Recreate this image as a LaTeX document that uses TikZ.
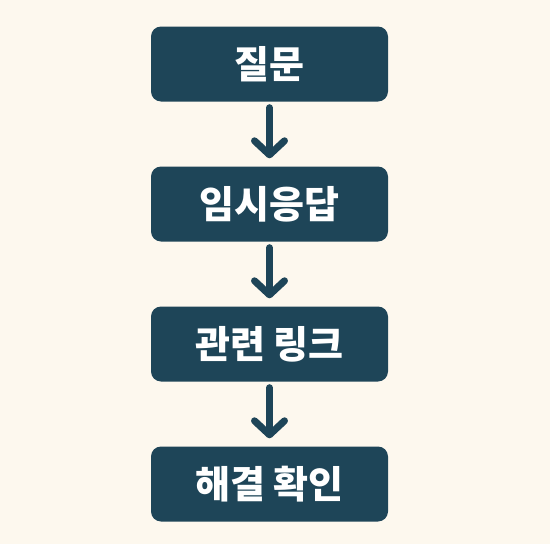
\documentclass[tikz,border=0pt]{standalone}
\usepackage{fontspec}
\newfontfamily\kr{Noto Sans CJK KR}[BoldFont={Noto Sans CJK KR Black}]
\usetikzlibrary{arrows.meta}
\definecolor{bg}{HTML}{FDF8EE}
\definecolor{boxc}{HTML}{1E4558}
\tikzset{
  stepbox/.style={draw=none, fill=boxc, rounded corners=10pt, minimum width=237pt, minimum height=75pt, inner sep=0pt, text=white, font=\kr\bfseries\fontsize{38}{44}\selectfont},
  flow/.style={draw=boxc, line width=7pt, line cap=round, -{Straight Barb[round, length=14pt, width=30pt]}, shorten <=6pt, shorten >=8pt}
}
\begin{document}
\begin{tikzpicture}[x=1pt,y=-1pt]
\fill[bg] (0,0) rectangle (550,544);
\useasboundingbox (0,0) rectangle (550,544);
\node[stepbox] (q) at (269.5,64) {질문};
\node[stepbox] (t) at (269.5,204) {임시응답};
\node[stepbox] (l) at (269.5,344) {관련 링크};
\node[stepbox] (r) at (269.5,484) {해결 확인};
\draw[flow] (q) -- (t);
\draw[flow] (t) -- (l);
\draw[flow] (l) -- (r);
\end{tikzpicture}
\end{document}
